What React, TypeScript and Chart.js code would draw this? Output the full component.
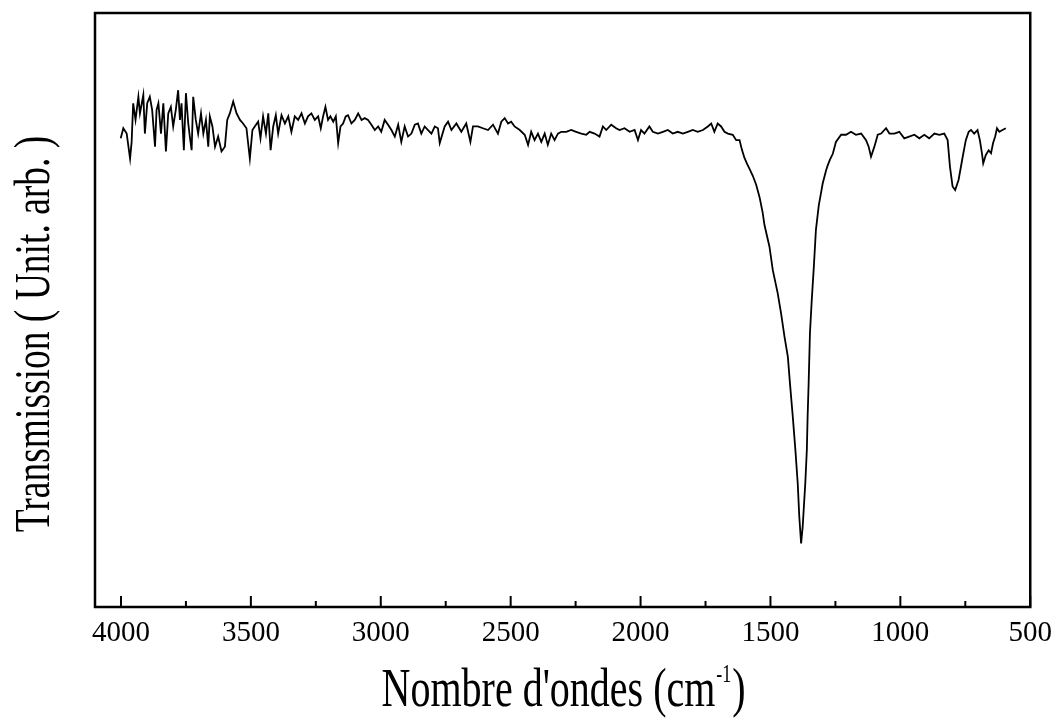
import React, { useEffect, useRef } from "react";
import { Chart, registerables } from "chart.js";

Chart.register(...registerables);

// Wavenumber (cm-1) of each sampled point
const wavenumbers: number[] = [
  4001, 3991, 3978, 3965, 3959, 3953, 3944, 3933, 3927, 3914,
  3908, 3899, 3889, 3880, 3869, 3863, 3856, 3846, 3837, 3827,
  3818, 3808, 3799, 3789, 3780, 3773, 3767, 3758, 3750, 3741,
  3735, 3728, 3722, 3712, 3703, 3692, 3683, 3673, 3664, 3658,
  3648, 3638, 3626, 3613, 3600, 3591, 3581, 3568, 3555, 3542,
  3530, 3517, 3504, 3494, 3485, 3472, 3463, 3453, 3442, 3433,
  3424, 3414, 3404, 3395, 3382, 3369, 3356, 3344, 3331, 3318,
  3305, 3292, 3280, 3267, 3254, 3241, 3231, 3222, 3213, 3203,
  3194, 3183, 3173, 3164, 3155, 3145, 3135, 3126, 3113, 3100,
  3087, 3074, 3062, 3049, 3036, 3023, 3010, 2998, 2985, 2972,
  2959, 2946, 2933, 2921, 2908, 2895, 2882, 2869, 2857, 2844,
  2831, 2818, 2805, 2792, 2780, 2773, 2754, 2741, 2728, 2709,
  2690, 2671, 2655, 2645, 2626, 2607, 2587, 2568, 2549, 2536,
  2523, 2510, 2498, 2485, 2465, 2446, 2433, 2421, 2408, 2395,
  2382, 2369, 2357, 2344, 2331, 2318, 2305, 2286, 2267, 2248,
  2228, 2209, 2196, 2177, 2158, 2145, 2132, 2113, 2094, 2081,
  2062, 2042, 2023, 2010, 1998, 1985, 1966, 1953, 1933, 1914,
  1895, 1876, 1857, 1837, 1818, 1799, 1780, 1760, 1741, 1728,
  1716, 1703, 1690, 1677, 1664, 1645, 1632, 1619, 1610, 1600,
  1590, 1581, 1568, 1555, 1542, 1530, 1523, 1504, 1491, 1472,
  1459, 1446, 1433, 1425, 1414, 1404, 1395, 1389, 1382, 1376,
  1366, 1360, 1357, 1353, 1348, 1341, 1333, 1325, 1314, 1305,
  1299, 1286, 1280, 1271, 1260, 1248, 1228, 1209, 1190, 1171,
  1151, 1132, 1122, 1113, 1100, 1087, 1074, 1055, 1042, 1023,
  1004, 985, 966, 946, 927, 908, 889, 869, 850, 831,
  818, 809, 799, 789, 776, 760, 748, 737, 728, 716,
  703, 694, 686, 681, 671, 660, 651, 643, 635, 628,
  619, 607, 594,
];

// Transmission (arbitrary units) at each wavenumber
const transmission: number[] = [
  78.9, 80.6, 79.7, 75.5, 78.3, 84.8, 82.0, 85.9, 83.1, 86.2,
  79.7, 84.8, 85.9, 83.7, 77.5, 83.7, 84.8, 79.7, 84.8, 76.7,
  83.1, 84.2, 80.9, 83.7, 87.0, 82.0, 84.8, 76.9, 86.5, 81.4,
  79.2, 76.9, 85.9, 82.0, 79.7, 83.1, 79.7, 82.0, 77.5, 82.6,
  80.9, 77.5, 79.2, 76.7, 77.5, 82.0, 83.1, 85.1, 83.1, 82.0,
  81.4, 80.6, 75.5, 80.3, 80.9, 81.7, 78.9, 82.6, 79.7, 83.1,
  76.9, 80.9, 82.8, 79.7, 82.8, 81.4, 82.6, 80.0, 82.6, 82.0,
  83.1, 81.4, 82.6, 83.1, 82.0, 82.6, 80.6, 82.6, 84.2, 82.0,
  82.6, 81.7, 82.6, 78.1, 80.9, 81.4, 82.6, 82.8, 81.4, 82.0,
  83.1, 82.0, 82.3, 82.0, 81.2, 80.3, 80.9, 80.0, 82.0, 81.2,
  80.3, 79.2, 81.2, 78.3, 80.9, 79.2, 79.7, 81.2, 81.4, 79.7,
  80.9, 80.3, 79.7, 80.9, 80.6, 78.1, 80.9, 81.7, 80.3, 81.4,
  80.0, 81.4, 78.3, 80.9, 80.9, 80.6, 80.3, 81.2, 79.7, 81.7,
  82.3, 81.4, 81.7, 80.9, 80.3, 79.5, 77.8, 80.0, 78.6, 79.7,
  78.3, 79.7, 77.8, 79.7, 78.6, 79.7, 80.0, 80.0, 80.3, 80.0,
  79.7, 79.5, 80.0, 79.7, 79.2, 80.9, 80.3, 81.2, 80.6, 80.3,
  80.6, 80.0, 80.3, 78.6, 80.3, 79.7, 80.9, 80.0, 79.7, 80.0,
  80.3, 79.7, 80.0, 79.7, 80.0, 80.3, 80.0, 80.3, 80.9, 81.4,
  80.0, 81.4, 80.9, 80.0, 79.7, 79.5, 78.6, 78.6, 77.0, 75.6,
  74.6, 73.8, 72.6, 71.1, 69.0, 66.4, 64.3, 60.7, 56.7, 52.8,
  49.4, 45.5, 42.1, 37.7, 32.0, 26.4, 20.8, 15.2, 10.7, 13.5,
  20.8, 26.4, 32.0, 37.7, 46.1, 51.7, 57.3, 63.5, 67.6, 69.8,
  71.3, 73.5, 74.3, 75.3, 76.3, 78.3, 79.5, 79.5, 80.0, 79.5,
  79.7, 78.6, 77.5, 75.8, 77.5, 79.5, 79.7, 80.6, 79.7, 79.7,
  80.0, 78.9, 79.2, 79.5, 78.9, 79.5, 78.9, 79.7, 79.5, 79.7,
  78.6, 74.1, 70.8, 70.2, 71.9, 75.8, 78.6, 80.0, 80.3, 79.7,
  80.3, 78.6, 76.4, 74.7, 76.1, 76.9, 76.4, 78.1, 79.2, 80.6,
  80.0, 80.3, 80.6,
];

// Tick positions on the wavenumber axis (labels only on multiples of 500)
const xTickValues: number[] = [
  4000, 3750, 3500, 3250, 3000, 2750, 2500, 2250, 2000, 1750, 1500, 1250, 1000, 750, 500,
];
const xLabelStep = 500;
const xMin = 500;
const xMax = 4100;
const yMin = 0;
const yMax = 100;

const xTitleMain = "Nombre d'ondes (cm";
const xTitleSup = "-1";
const xTitleEnd = ")";
const yTitle = "Transmission ( Unit. arb. )";

const FONT = "'Liberation Serif', 'Times New Roman', Times, serif";

const decorPlugin = {
  id: "decor",
  afterDraw(chart: any) {
    const { ctx, chartArea: a, scales } = chart;
    const xs = scales.x;
    ctx.save();
    ctx.strokeStyle = "#000";
    ctx.fillStyle = "#000";
    ctx.lineWidth = 2.5;
    ctx.strokeRect(a.left, a.top, a.right - a.left, a.bottom - a.top);

    ctx.lineWidth = 2;
    xTickValues.forEach((v) => {
      const px = xs.getPixelForValue(v);
      const len = v % xLabelStep === 0 ? 11 : 6;
      ctx.beginPath();
      ctx.moveTo(px, a.bottom);
      ctx.lineTo(px, a.bottom - len);
      ctx.stroke();
    });

    // x-axis title with superscript
    const mainFont = `40px ${FONT}`;
    const supFont = `18px ${FONT}`;
    ctx.textBaseline = "alphabetic";
    ctx.textAlign = "left";
    ctx.font = mainFont;
    const w1 = ctx.measureText(xTitleMain).width;
    const w3 = ctx.measureText(xTitleEnd).width;
    ctx.font = supFont;
    const w2 = ctx.measureText(xTitleSup).width;
    const total = w1 + w2 + w3;
    const cx = (a.left + a.right) / 2;
    ctx.save();
    ctx.translate(cx - total / 2, chart.height - 17);
    ctx.scale(1, 1.35);
    ctx.font = mainFont;
    ctx.fillText(xTitleMain, 0, 0);
    ctx.font = supFont;
    ctx.fillText(xTitleSup, w1 + 1, -18);
    ctx.font = mainFont;
    ctx.fillText(xTitleEnd, w1 + w2 + 2, 0);
    ctx.restore();

    // y-axis title
    ctx.save();
    ctx.translate(49, (a.top + a.bottom) / 2 + 24);
    ctx.rotate(-Math.PI / 2);
    ctx.scale(1, 1.35);
    ctx.font = `37.5px ${FONT}`;
    ctx.textAlign = "center";
    ctx.fillText(yTitle, 0, 0);
    ctx.restore();

    ctx.restore();
  },
};

export default function App() {
  const canvasRef = useRef<HTMLCanvasElement | null>(null);

  useEffect(() => {
    document.body.style.margin = "0";
    const canvas = canvasRef.current;
    if (!canvas) return;
    const points = wavenumbers.map((x, i) => ({ x, y: transmission[i] }));
    const chart = new Chart(canvas, {
      type: "line",
      data: {
        datasets: [
          {
            data: points,
            borderColor: "#000",
            borderWidth: 1.8,
            pointRadius: 0,
            tension: 0,
            fill: false,
          },
        ],
      },
      options: {
        animation: false,
        responsive: false,
        maintainAspectRatio: false,
        layout: { padding: { top: 13, right: 29, left: 0, bottom: 0 } },
        plugins: {
          legend: { display: false },
          tooltip: { enabled: false },
          title: { display: false },
        },
        scales: {
          x: {
            type: "linear",
            reverse: true,
            min: xMin,
            max: xMax,
            afterBuildTicks: (scale: any) => {
              scale.ticks = xTickValues.map((v) => ({ value: v }));
            },
            afterFit: (scale: any) => {
              scale.height = 116;
            },
            grid: { display: false, drawTicks: false },
            border: { display: false },
            ticks: {
              autoSkip: false,
              maxRotation: 0,
              minRotation: 0,
              padding: 9,
              color: "#000",
              font: { family: FONT, size: 29 },
              callback: (v: any) => (Number(v) % xLabelStep === 0 ? String(v) : ""),
            },
          },
          y: {
            type: "linear",
            min: yMin,
            max: yMax,
            afterFit: (scale: any) => {
              scale.width = 95;
            },
            grid: { display: false, drawTicks: false },
            border: { display: false },
            ticks: { display: false },
          },
        },
      },
      plugins: [decorPlugin],
    });
    return () => chart.destroy();
  }, []);

  return (
    <div style={{ position: "absolute", left: 0, top: 0, width: 1061, height: 723 }}>
      <canvas ref={canvasRef} width={1061} height={723} style={{ width: 1061, height: 723 }} />
    </div>
  );
}
